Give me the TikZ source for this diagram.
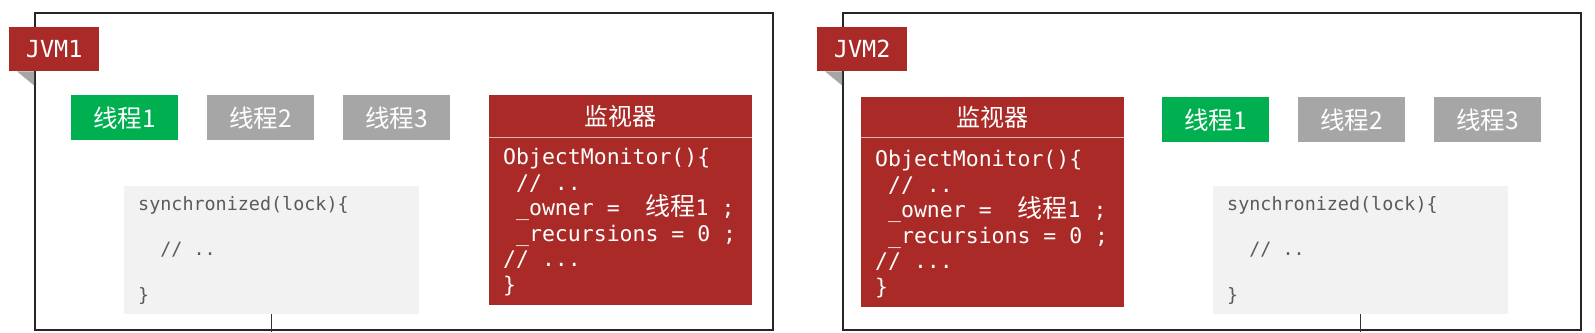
\documentclass[tikz,border=0pt]{standalone}
\usepackage{fontspec}
\newfontfamily\cjk{Noto Sans CJK SC}
\newfontfamily\mono{DejaVu Sans Mono}
\definecolor{jvmred}{HTML}{A92A26}
\definecolor{thgreen}{HTML}{00AF4F}
\definecolor{thgray}{HTML}{A6A6A6}
\definecolor{syncfill}{HTML}{F2F2F2}
\definecolor{synctext}{HTML}{5A5A5A}
\tikzset{
  frame/.style={draw=black!85, line width=1.5pt, anchor=north west, inner sep=0, minimum width=738pt, minimum height=317pt},
  jvmlabel/.style={fill=jvmred, text=white, font=\mono\fontsize{23.5}{26}\selectfont, anchor=north west, inner sep=0, minimum width=90pt, minimum height=44pt},
  fold/.style={fill=black!35},
  thread/.style={text=white, font=\cjk\fontsize{24.5}{27}\selectfont, anchor=north west, inner sep=0, minimum width=107pt, minimum height=45pt},
  running/.style={thread, fill=thgreen},
  waiting/.style={thread, fill=thgray},
  monitor/.style={fill=jvmred, anchor=north west, inner sep=0, minimum width=263pt, minimum height=210pt},
  montitle/.style={text=white, font=\cjk\fontsize{24}{27}\selectfont, inner sep=0},
  monsep/.style={draw=white!65!jvmred, line width=1pt},
  moncode/.style={text=white, font=\mono\fontsize{21.5}{25.6}\selectfont, align=left, anchor=north west, inner sep=0},
  syncbox/.style={fill=syncfill, anchor=north west, inner sep=0, minimum width=295pt, minimum height=128pt},
  synccode/.style={text=synctext, font=\mono\fontsize{18.4}{45.5}\selectfont, align=left, anchor=north west, inner sep=0},
  stem/.style={draw=black!80, line width=1pt}
}
\newcommand{\ownerline}{~\_owner =~~\makebox[63pt][l]{{\cjk\fontsize{25}{25}\selectfont 线程}1} ;}
\begin{document}
\begin{tikzpicture}[x=1pt,y=-1pt]
\useasboundingbox (0,0) rectangle (1595,332);
% ---------------- JVM1 ----------------
\node[frame] (f1) at (34,12) {};
\node[jvmlabel] (l1) at (9,27) {JVM1};
\fill[fold] ([xshift=8pt]l1.south west) -- (f1.west |- l1.south) -- ([yshift=-14pt]f1.west |- l1.south) -- cycle;
\node[running] (t11) at (71,95) {线程1};
\node[waiting] (t12) at (207,95) {线程2};
\node[waiting] (t13) at (343,95) {线程3};
\node[monitor] (m1) at (489,95) {};
\node[montitle] (m1t) at (620.5,116) {监视器};
\coordinate (m1s) at (489,137);
\draw[monsep] (m1s) -- (m1s -| m1.east);
\node[moncode] (m1c) at (503,148) {ObjectMonitor()\{\\~// ..\\\ownerline\\~\_recursions = 0 ;\\// ...\\\}};
\node[syncbox] (s1) at (124,186) {};
\node[synccode] (s1c) at (138,196) {synchronized(lock)\{\\~~// ..\\\}};
\coordinate (b1) at (272,332);
\draw[stem] (s1.south) -- (s1.south |- b1);
% ---------------- JVM2 ----------------
\node[frame] (f2) at (842,12) {};
\node[jvmlabel] (l2) at (817,27) {JVM2};
\fill[fold] ([xshift=8pt]l2.south west) -- (f2.west |- l2.south) -- ([yshift=-14pt]f2.west |- l2.south) -- cycle;
\node[monitor] (m2) at (861,97) {};
\node[montitle] (m2t) at (992,117) {监视器};
\coordinate (m2s) at (861,137);
\draw[monsep] (m2s) -- (m2s -| m2.east);
\node[moncode] (m2c) at (875,150) {ObjectMonitor()\{\\~// ..\\\ownerline\\~\_recursions = 0 ;\\// ...\\\}};
\node[running] (t21) at (1162,97) {线程1};
\node[waiting] (t22) at (1298,97) {线程2};
\node[waiting] (t23) at (1434,97) {线程3};
\node[syncbox] (s2) at (1213,186) {};
\node[synccode] (s2c) at (1227,196) {synchronized(lock)\{\\~~// ..\\\}};
\coordinate (b2) at (1361,332);
\draw[stem] (s2.south) -- (s2.south |- b2);
\end{tikzpicture}
\end{document}
